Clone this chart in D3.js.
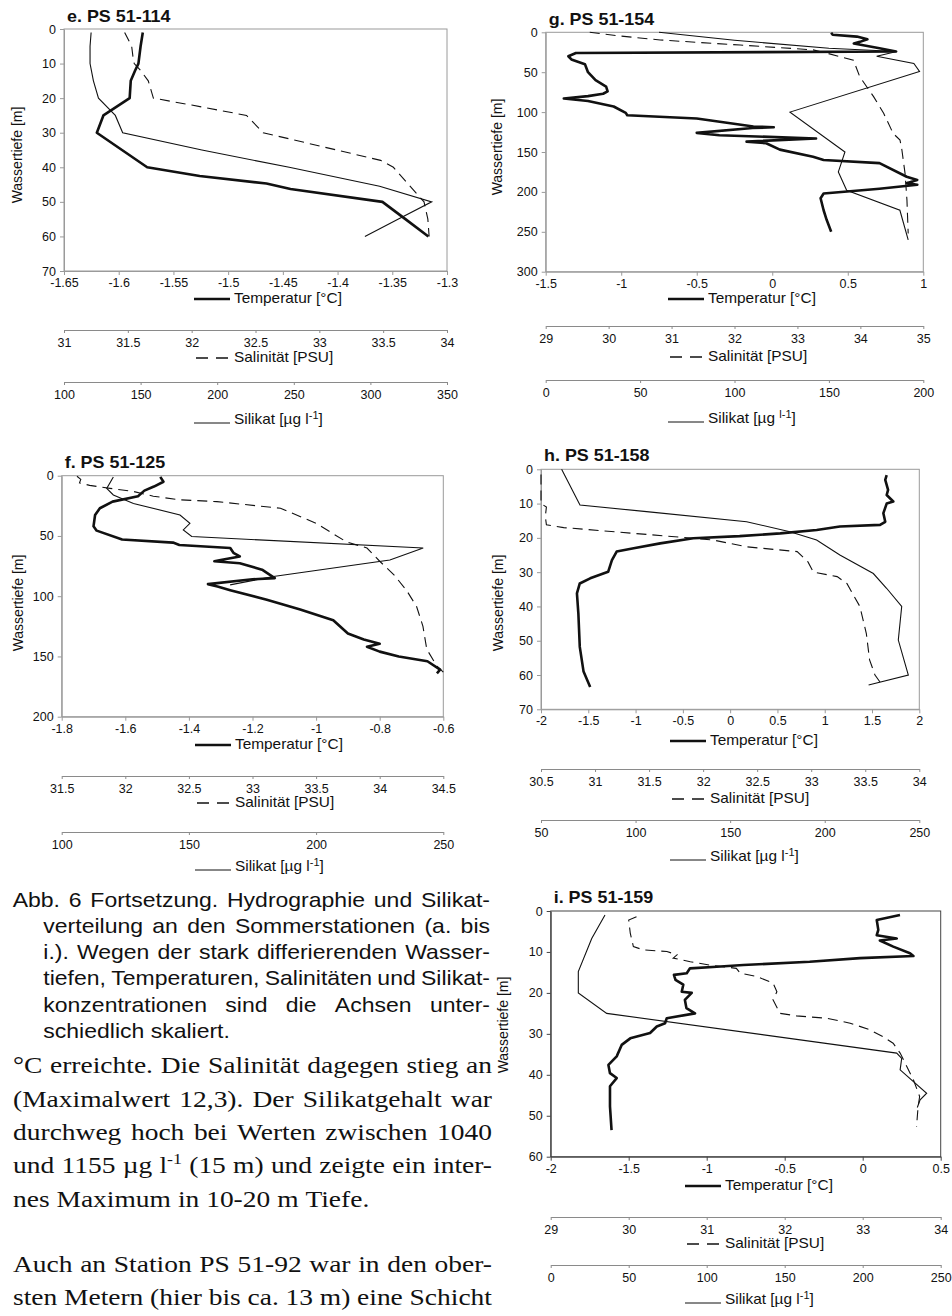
<!DOCTYPE html>
<html>
<head>
<meta charset="utf-8">
<script src="https://cdn.jsdelivr.net/npm/d3@7"></script>
<style>
  body { margin: 0; background: #fff; }
  svg { display: block; }
</style>
</head>
<body>
<svg id="page" width="952" height="1316"></svg>
<script>
// ---------- Profiles: [Wassertiefe (m), Wert] ----------
// e. PS 51-114
const tempE = [[1,-1.578],[5,-1.580],[10,-1.582],[12,-1.585],[15,-1.589],[20,-1.590],[25,-1.614],[30,-1.620],[35,-1.597],[40,-1.574],[42.5,-1.526],[44.7,-1.465],[46.3,-1.443],[50,-1.359],[55,-1.338],[60,-1.317]];
const salE  = [[1,31.475],[5,31.53],[8,31.54],[10,31.55],[12,31.6],[15,31.66],[20,31.70],[22,32.0],[25,32.43],[30,32.56],[34,33.02],[38,33.48],[40,33.58],[45,33.70],[50,33.82],[55,33.85],[60,33.86]];
const silE  = [[1,117.7],[5,117],[10,117],[15,119.2],[20,122.5],[25,133.5],[30,138.3],[35,190],[40,247],[45.5,306],[50,340],[55,318],[60,296.4]];

// g. PS 51-154
const tempG = [[0.5,0.39],[3,0.40],[5.4,0.56],[8.8,0.63],[12,0.58],[14,0.54],[20,0.71],[24,0.82],[26,-1.30],[30,-1.35],[34,-1.33],[40,-1.24],[50,-1.22],[60,-1.17],[68,-1.10],[74,-1.09],[77,-1.12],[80,-1.22],[83,-1.38],[86,-1.22],[93,-1.05],[101,-0.97],[104,-0.96],[108,-0.50],[118,-0.125],[119,0.01],[120,-0.13],[126,-0.50],[129,-0.35],[133,0.29],[137,-0.17],[139,-0.04],[147,0.05],[156,0.27],[160,0.34],[164,0.71],[181,0.89],[185,0.96],[189,0.89],[191,0.96],[196,0.71],[202,0.34],[208,0.32],[223,0.34],[235,0.36],[250,0.39]];
const salG  = [[0,29.7],[4.6,30.18],[9.6,30.82],[16,32.09],[22,33.25],[26,33.46],[35,33.89],[55.6,33.99],[80.6,34.21],[101.5,34.37],[126.6,34.52],[135,34.63],[147.5,34.66],[176.8,34.71],[210,34.74],[252,34.76]];
const silG  = [[0,60],[10,100],[20,150],[24,185.9],[30,175.3],[39,195],[49,198],[100,129.4],[150,158.5],[175,155],[198,159.4],[223,187.6],[260,192]];

// f. PS 51-125
const tempF = [[1,-1.49],[5,-1.48],[9,-1.51],[12.4,-1.54],[17,-1.56],[21.5,-1.64],[27,-1.68],[32.6,-1.695],[42,-1.70],[45.6,-1.69],[53,-1.61],[55.5,-1.45],[57.5,-1.43],[60,-1.27],[64,-1.26],[67,-1.24],[70,-1.30],[71,-1.32],[72.6,-1.24],[78,-1.17],[85,-1.13],[86,-1.20],[90,-1.34],[92,-1.31],[95,-1.27],[103,-1.155],[111,-1.05],[120,-0.946],[131,-0.90],[136,-0.85],[139.5,-0.80],[142,-0.84],[146,-0.80],[150,-0.74],[154,-0.65],[161,-0.61],[164,-0.62]];
const salF  = [[0.5,31.62],[3,31.65],[6,31.64],[8,31.72],[10.5,31.88],[13,32.06],[17,32.22],[20,32.43],[21.5,32.72],[27,33.22],[39.5,33.50],[55,33.74],[60,33.90],[71,34.00],[82,34.11],[95,34.21],[108.6,34.29],[125,34.34],[144,34.37],[158,34.45],[163,34.5]];
const silF  = [[1,120.3],[10.5,117.7],[16,120.3],[23,128.2],[32.6,146.5],[39.5,150.4],[45,147.8],[50.5,151.1],[60,242.1],[70,229],[83.7,183.2],[90.6,166.2]];

// h. PS 51-158
const tempH = [[1.7,1.655],[3.1,1.64],[6,1.67],[7.5,1.655],[9.4,1.725],[10,1.655],[12.8,1.62],[15.3,1.64],[16.2,1.585],[16.7,1.16],[17.7,0.915],[18.7,0.53],[19.5,0.10],[20.1,-0.39],[21.6,-0.74],[23,-1.02],[24,-1.2],[26.5,-1.25],[29.9,-1.29],[31.8,-1.48],[33.3,-1.59],[36.2,-1.62],[42,-1.605],[51.8,-1.59],[59,-1.55],[63.5,-1.48]];
const salH  = [[1.5,30.5],[10,30.5],[11,30.55],[13.8,30.54],[16.2,30.55],[17,30.71],[19,31.48],[20.6,32.09],[22.6,32.40],[24,32.87],[27,32.97],[30,33.02],[31.3,33.24],[33.3,33.33],[40,33.45],[47.9,33.51],[55.6,33.54],[60,33.59],[62.2,33.64]];
const silH  = [[0,60.9],[10.4,70.6],[12.35,105.8],[15.3,158.7],[18.2,181.6],[20.6,195.7],[25,208],[30.4,225.7],[34.7,232.7],[40,240.7],[49.8,238.9],[60,244.2],[62.9,223.2]];

// i. PS 51-159
const tempI = [[1,0.239],[2.2,0.09],[4.6,0.10],[5.9,0.09],[6.7,0.218],[7.2,0.11],[8.7,0.196],[10.3,0.303],[11,0.325],[11.5,-0.017],[12.4,-0.34],[13.2,-0.765],[13.6,-0.936],[14,-1.107],[15.2,-1.128],[15.6,-1.21],[16.8,-1.20],[18,-1.15],[19.7,-1.16],[20,-1.096],[21.7,-1.14],[23.7,-1.13],[25,-1.075],[26.2,-1.256],[27.4,-1.267],[28.2,-1.32],[29.8,-1.363],[31.1,-1.49],[32.7,-1.545],[35.5,-1.577],[37.6,-1.63],[39.6,-1.62],[40.8,-1.577],[42.8,-1.62],[47.7,-1.62],[53.5,-1.61]];
const salI  = [[1.4,30.10],[2.2,30.0],[5.4,30.02],[8.7,30.06],[9.5,30.19],[9.9,30.49],[10.7,30.62],[11.5,30.57],[12.4,30.79],[13.2,31.04],[14,31.38],[15.2,31.43],[16,31.64],[17.6,31.85],[19.7,31.90],[21.7,31.85],[25,31.94],[25.6,32.15],[26.2,32.54],[27.4,32.84],[29,33.09],[30.7,33.26],[32.3,33.39],[34.7,33.48],[41.2,33.65],[45.3,33.73],[47.8,33.71],[52.7,33.69]];
const silI  = [[1,34.8],[6.7,26.3],[14.8,17.7],[20,17.7],[25,35.9],[34.7,221.8],[36,225],[38.8,224],[44.5,241],[46.1,236.8],[48,235]];

// ---------- Axis ticks ----------
const depthTicksE = [0,10,20,30,40,50,60,70];
const tempTicksE  = [-1.65,-1.6,-1.55,-1.5,-1.45,-1.4,-1.35,-1.3];
const salTicksE   = [31,31.5,32,32.5,33,33.5,34];
const silTicksE   = [100,150,200,250,300,350];

const depthTicksG = [0,50,100,150,200,250,300];
const tempTicksG  = [-1.5,-1,-0.5,0,0.5,1];
const salTicksG   = [29,30,31,32,33,34,35];
const silTicksG   = [0,50,100,150,200];

const depthTicksF = [0,50,100,150,200];
const tempTicksF  = [-1.8,-1.6,-1.4,-1.2,-1,-0.8,-0.6];
const salTicksF   = [31.5,32,32.5,33,33.5,34,34.5];
const silTicksF   = [100,150,200,250];

const depthTicksH = [0,10,20,30,40,50,60,70];
const tempTicksH  = [-2,-1.5,-1,-0.5,0,0.5,1,1.5,2];
const salTicksH   = [30.5,31,31.5,32,32.5,33,33.5,34];
const silTicksH   = [50,100,150,200,250];

const depthTicksI = [0,10,20,30,40,50,60];
const tempTicksI  = [-2,-1.5,-1,-0.5,0,0.5];
const salTicksI   = [29,30,31,32,33,34];
const silTicksI   = [0,50,100,150,200,250];

// ---------- Text ----------
const captionLines = [
  "Abb. 6 Fortsetzung. Hydrographie und Silikat-",
  "verteilung an den Sommerstationen (a. bis",
  "i.). Wegen der stark differierenden Wasser-",
  "tiefen, Temperaturen, Salinitäten und Silikat-",
  "konzentrationen sind die Achsen unter-",
  "schiedlich skaliert."
];
const bodyLines = [
  "°C erreichte. Die Salinität dagegen stieg an",
  "(Maximalwert 12,3). Der Silikatgehalt war",
  "durchweg hoch bei Werten zwischen 1040",
  "und 1155 µg l^-1 (15 m) und zeigte ein inter-",
  "nes Maximum in 10-20 m Tiefe.",
  "Auch an Station PS 51-92 war in den ober-",
  "sten Metern (hier bis ca. 13 m) eine Schicht"
];

// ---------- Drawing ----------
const SANS = "'Liberation Sans', Arial, Helvetica, sans-serif";
const SERIF = "'Liberation Serif', 'Times New Roman', serif";
const svg = d3.select('#page');
const fmt = d => String(d);

const panels = [
  { title: 'e. PS 51-114', L: 64, R: 447, T: 29, B: 271, depthMax: 70,
    depthTicks: depthTicksE, tempDomain: [-1.65, -1.3], tempTicks: tempTicksE,
    salDomain: [31, 34], salTicks: salTicksE, silDomain: [100, 350], silTicks: silTicksE,
    temp: tempE, sal: salE, sil: silE,
    titleY: 22, tempLegY: 303, salAxisY: 330, salLegY: 362, silAxisY: 382, silLegY: 424,
    legX: 194, ylabX: 17, ylabY: 155, frame: '#9a9a9a', supAll: false },
  { title: 'g. PS 51-154', L: 545.7, R: 923.3, T: 32.3, B: 271.7, depthMax: 300,
    depthTicks: depthTicksG, tempDomain: [-1.5, 1], tempTicks: tempTicksG,
    salDomain: [29, 35], salTicks: salTicksG, silDomain: [0, 200], silTicks: silTicksG,
    temp: tempG, sal: salG, sil: silG,
    titleY: 25, tempLegY: 303, salAxisY: 326, salLegY: 361, silAxisY: 380, silLegY: 423,
    legX: 668, ylabX: 497, ylabY: 147, frame: '#9a9a9a', supAll: true },
  { title: 'f. PS 51-125', L: 61.7, R: 443.3, T: 475.7, B: 716.7, depthMax: 200,
    depthTicks: depthTicksF, tempDomain: [-1.8, -0.6], tempTicks: tempTicksF,
    salDomain: [31.5, 34.5], salTicks: salTicksF, silDomain: [100, 250], silTicks: silTicksF,
    temp: tempF, sal: salF, sil: silF,
    titleY: 468, tempLegY: 749, salAxisY: 776, salLegY: 807, silAxisY: 832, silLegY: 871,
    legX: 195, ylabX: 18, ylabY: 603, frame: '#9a9a9a', supAll: false },
  { title: 'h. PS 51-158', L: 541, R: 919.3, T: 469.3, B: 709.3, depthMax: 70,
    depthTicks: depthTicksH, tempDomain: [-2, 2], tempTicks: tempTicksH,
    salDomain: [30.5, 34], salTicks: salTicksH, silDomain: [50, 250], silTicks: silTicksH,
    temp: tempH, sal: salH, sil: silH,
    titleY: 461, tempLegY: 745, salAxisY: 769, salLegY: 803, silAxisY: 820, silLegY: 861,
    legX: 670, ylabX: 498, ylabY: 603, frame: '#9a9a9a', supAll: false },
  { title: 'i. PS 51-159', L: 550.7, R: 940.7, T: 911, B: 1156.7, depthMax: 60,
    depthTicks: depthTicksI, tempDomain: [-2, 0.5], tempTicks: tempTicksI,
    salDomain: [29, 34], salTicks: salTicksI, silDomain: [0, 250], silTicks: silTicksI,
    temp: tempI, sal: salI, sil: silI,
    titleY: 903, tempLegY: 1190, salAxisY: 1217, salLegY: 1248, silAxisY: 1265, silLegY: 1304,
    legX: 685, ylabX: 503, ylabY: 1025, frame: '#444', supAll: false }
];

function styleAxis(sel, color) {
  sel.select('.domain').attr('stroke', color).attr('stroke-width', 1);
  sel.selectAll('.tick line').attr('stroke', color).attr('stroke-width', 1);
  sel.selectAll('.tick text').attr('fill', '#111')
     .style('font-family', SANS).style('font-size', '12.5px');
}

function label(g, x, y, size, opts = {}) {
  return g.append('text')
    .attr('transform', `translate(${x},${y}) scale(${opts.sx || 1.1},1)`)
    .attr('text-anchor', opts.anchor || 'start')
    .style('font-family', SANS).style('font-size', size + 'px')
    .style('font-weight', opts.bold ? 'bold' : 'normal')
    .attr('fill', '#111');
}

function drawPanel(p) {
  const g = svg.append('g');
  const y = d3.scaleLinear().domain([0, p.depthMax]).range([p.T, p.B]);
  const xT = d3.scaleLinear().domain(p.tempDomain).range([p.L, p.R]);
  const xS = d3.scaleLinear().domain(p.salDomain).range([p.L, p.R]);
  const xSi = d3.scaleLinear().domain(p.silDomain).range([p.L, p.R]);

  // plot frame
  g.append('rect').attr('x', p.L).attr('y', p.T)
    .attr('width', p.R - p.L).attr('height', p.B - p.T)
    .attr('fill', 'none').attr('stroke', p.frame).attr('stroke-width', 1);

  // depth axis
  g.append('g').attr('transform', `translate(${p.L},0)`)
    .call(d3.axisLeft(y).tickValues(p.depthTicks).tickSize(4).tickSizeOuter(0).tickPadding(4).tickFormat(fmt))
    .call(s => styleAxis(s, p.frame));

  // temperature axis
  g.append('g').attr('transform', `translate(0,${p.B})`)
    .call(d3.axisBottom(xT).tickValues(p.tempTicks).tickSize(4).tickSizeOuter(0).tickPadding(3).tickFormat(fmt))
    .call(s => styleAxis(s, p.frame));

  // salinity axis
  g.append('g').attr('transform', `translate(0,${p.salAxisY})`)
    .call(d3.axisBottom(xS).tickValues(p.salTicks).tickSize(3).tickSizeOuter(0).tickPadding(5).tickFormat(fmt))
    .call(s => styleAxis(s, '#8a8a8a'));

  // silicate axis
  g.append('g').attr('transform', `translate(0,${p.silAxisY})`)
    .call(d3.axisBottom(xSi).tickValues(p.silTicks).tickSize(3).tickSizeOuter(0).tickPadding(5).tickFormat(fmt))
    .call(s => styleAxis(s, '#8a8a8a'));

  // profiles
  const clip = 'clip-' + p.title.charAt(0);
  svg.append('clipPath').attr('id', clip).append('rect')
    .attr('x', p.L - 2).attr('y', p.T - 2).attr('width', p.R - p.L + 4).attr('height', p.B - p.T + 4);
  const lines = g.append('g').attr('clip-path', `url(#${clip})`);
  const profile = xs => d3.line().x(d => xs(d[1])).y(d => y(d[0]));

  lines.append('path').datum(p.sil).attr('d', profile(xSi))
    .attr('fill', 'none').attr('stroke', '#111').attr('stroke-width', 1.1);
  lines.append('path').datum(p.sal).attr('d', profile(xS))
    .attr('fill', 'none').attr('stroke', '#111').attr('stroke-width', 1.1)
    .attr('stroke-dasharray', '10,6');
  lines.append('path').datum(p.temp).attr('d', profile(xT))
    .attr('fill', 'none').attr('stroke', '#111').attr('stroke-width', 2.6)
    .attr('stroke-linejoin', 'round');

  // title
  label(g, p.L + 3, p.titleY, 16, { bold: true, sx: 1.12 }).text(p.title);

  // depth label
  g.append('text')
    .attr('transform', `translate(${p.ylabX + 5},${p.ylabY}) rotate(-90)`)
    .attr('text-anchor', 'middle')
    .style('font-family', SANS).style('font-size', '14px').attr('fill', '#111')
    .text('Wassertiefe [m]');

  // legend entries under each axis
  const lx = p.legX, tx = p.legX + 40;
  g.append('line').attr('x1', lx).attr('x2', lx + 36).attr('y1', p.tempLegY - 4).attr('y2', p.tempLegY - 4)
    .attr('stroke', '#111').attr('stroke-width', 2.7);
  label(g, tx, p.tempLegY, 14).text('Temperatur [°C]');

  g.append('line').attr('x1', lx + 2).attr('x2', lx + 34).attr('y1', p.salLegY - 4).attr('y2', p.salLegY - 4)
    .attr('stroke', '#111').attr('stroke-width', 1.4).attr('stroke-dasharray', '12,8');
  label(g, tx, p.salLegY, 14).text('Salinität [PSU]');

  g.append('line').attr('x1', lx).attr('x2', lx + 36).attr('y1', p.silLegY - 1).attr('y2', p.silLegY - 1)
    .attr('stroke', '#111').attr('stroke-width', 1);
  const st = label(g, tx, p.silLegY, 14);
  st.append('tspan').text(p.supAll ? 'Silikat [µg ' : 'Silikat [µg l');
  st.append('tspan').attr('dy', -5).style('font-size', '10px').text(p.supAll ? 'l-1' : '-1');
  st.append('tspan').attr('dy', 5).text(']');
}

panels.forEach(drawPanel);

// ---------- Justified text blocks ----------
function addWord(g, tok, fam, size) {
  const t = g.append('text').style('font-family', fam).style('font-size', size + 'px').attr('fill', '#111');
  const k = tok.indexOf('^');
  if (k >= 0) {
    t.append('tspan').text(tok.slice(0, k));
    t.append('tspan').attr('dy', -size * 0.4).style('font-size', (size * 0.65) + 'px').text(tok.slice(k + 1));
  } else {
    t.text(tok);
  }
  return t;
}

function setLine(str, x0, x1, baseline, fam, size, sx, justify) {
  const g = svg.append('g').attr('transform', `translate(${x0},${baseline}) scale(${sx},1)`);
  const words = str.split(' ');
  const nodes = words.map(w => addWord(g, w, fam, size));
  const widths = nodes.map(n => n.node().getComputedTextLength());
  const total = d3.sum(widths);
  const target = (x1 - x0) / sx;
  let gap;
  if (justify && words.length > 1) {
    gap = (target - total) / (words.length - 1);
  } else {
    const probe = g.append('text').style('font-family', fam).style('font-size', size + 'px').text('a a');
    const probe2 = g.append('text').style('font-family', fam).style('font-size', size + 'px').text('aa');
    gap = probe.node().getComputedTextLength() - probe2.node().getComputedTextLength();
    probe.remove(); probe2.remove();
  }
  let x = 0;
  nodes.forEach((n, i) => { n.attr('x', x); x += widths[i] + gap; });
}

const capBase = [906.5, 932.8, 959.1, 985.4, 1011.7, 1038];
captionLines.forEach((s, i) => {
  const x0 = i === 0 ? 12.7 : 43.3;
  setLine(s, x0, 490, capBase[i], SANS, 20, 1.15, i < captionLines.length - 1);
});

const bodyBase = [1073.3, 1106.6, 1140, 1173.3, 1206.6, 1271.7, 1305];
bodyLines.forEach((s, i) => {
  setLine(s, 13, 492, bodyBase[i], SERIF, 23.5, 1.17, i !== 4);
});
</script>
</body>
</html>
